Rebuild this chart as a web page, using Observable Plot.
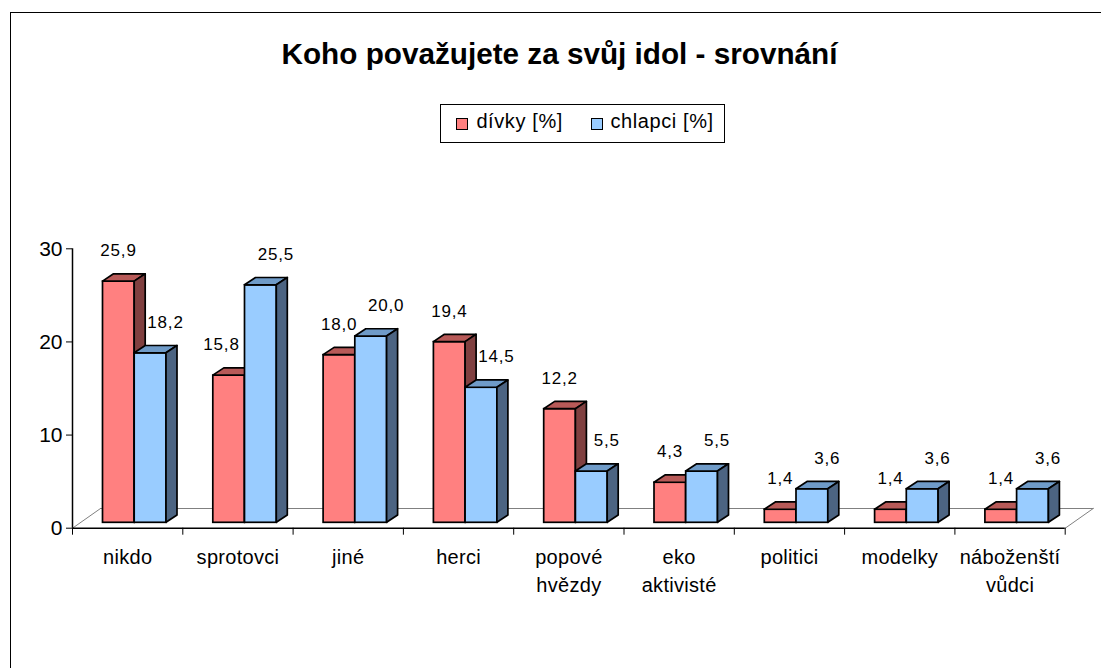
<!DOCTYPE html>
<html>
<head>
<meta charset="utf-8">
<script src="https://cdn.jsdelivr.net/npm/d3@7"></script>
<script src="https://cdn.jsdelivr.net/npm/@observablehq/plot@0.6"></script>
<style>
  html, body { margin: 0; padding: 0; background: #fff; overflow: hidden; }
  #wrap { position: relative; width: 1101px; height: 668px; overflow: hidden; font-family: "Liberation Sans", Arial, sans-serif; }
  #frame { position: absolute; left: 10px; top: 12px; width: 1300px; height: 1000px; border: 1.5px solid #000; box-sizing: border-box; pointer-events: none; }
  #chart { position: absolute; left: 0; top: 0; }
  #title { position: absolute; left: 0; width: 1119px; top: 38.5px; text-align: center; font-weight: bold; font-size: 29.7px; line-height: 29.7px; color: #000; white-space: nowrap; }
  #legend { position: absolute; left: 440px; top: 104px; width: 285px; height: 39px; border: 1.3px solid #000; box-sizing: border-box; background: #fff; }
  .sw { position: absolute; width: 12px; height: 12px; border: 1.5px solid #000; box-sizing: border-box; }
  .lt { position: absolute; font-size: 20px; line-height: 20px; letter-spacing: 0.6px; white-space: nowrap; color: #000; }
  .dlabels text { letter-spacing: 0.8px; }
  .catlabels text { letter-spacing: 0.3px; }
</style>
</head>
<body>
<div id="wrap">
  <div id="chart"></div>
  <div id="frame"></div>
  <div id="title">Koho považujete za svůj idol - srovnání</div>
  <div id="legend"></div>
</div>
<script>
// ---- data ----
const categories = ["nikdo", "sprotovci", "jiné", "herci", "popové\nhvězdy", "eko\naktivisté", "politici", "modelky", "náboženští\nvůdci"];
const divky = [25.9, 15.8, 18.0, 19.4, 12.2, 4.3, 1.4, 1.4, 1.4];
const chlapci = [18.2, 25.5, 20.0, 14.5, 5.5, 5.5, 3.6, 3.6, 3.6];
const seriesNames = ["dívky [%]", "chlapci [%]"];
const yTicks = [0, 10, 20, 30];

// ---- layout (pixels) ----
const W = 1101, H = 668;
const axisLeft = 72, axisRight = 1064.7, axisZero = 527.7, axisTop = 248.3;
const yMax = 30;
const pxX = (axisRight - axisLeft) / categories.length;
const pxY = (axisZero - axisTop) / yMax;
const barBase = 5.4 / pxY;           // bars sit slightly back from the front edge
const depthX = 11 / pxX, depthY = 7.3 / pxY;   // bar depth
const floorX = 28 / pxX, floorY = 19.7 / pxY;  // floor depth
const seriesOffsets = [[30.5, 62.2], [62.2, 94]].map(([a, b]) => [a / pxX, b / pxX]);
const labelLift = 31;     // px above front top of bar
const labelHalf = 6;      // px half height of label
const colors = [
  {front: "#ff8080", top: "#b85a58", side: "#804040"},
  {front: "#99ccff", top: "#6f9bc8", side: "#4c6482"}
];
const values = [divky, chlapci];

const rows = [];
values.forEach((vals, s) => {
  vals.forEach((v, i) => {
    rows.push({s, i, v, id: s + "-" + i,
      x1: i + seriesOffsets[s][0], x2: i + seriesOffsets[s][1],
      yb: barBase, yt: v + barBase});
  });
});

// label x: default over each bar; a red label is nudged left when the taller blue bar would hit it
const labelX = r => {
  if (r.s === 1) return r.i + 93 / pxX;
  const other = chlapci[r.i];
  const overlap = (other - r.v) * pxY > labelLift - labelHalf;
  return r.i + (overlap ? 38.7 : 46) / pxX;
};

const tops = s => rows.filter(r => r.s === s).flatMap(r => [
  {id: r.id, y: r.yt, x1: r.x1, x2: r.x2},
  {id: r.id, y: r.yt + depthY, x1: r.x1 + depthX, x2: r.x2 + depthX}
]);
const sides = s => rows.filter(r => r.s === s).flatMap(r => [
  {id: r.id, x: r.x2, y1: r.yb, y2: r.yt},
  {id: r.id, x: r.x2 + depthX, y1: r.yb + depthY, y2: r.yt + depthY}
]);

const n = categories.length;
const floor = [
  {z: "back", x: floorX, y: floorY}, {z: "back", x: n + floorX, y: floorY},
  {z: "left", x: 0, y: 0}, {z: "left", x: floorX, y: floorY},
  {z: "right", x: n, y: 0}, {z: "right", x: n + floorX, y: floorY}
];

const fmt = v => v.toFixed(1).replace(".", ",");
const sw = 1.7;

const barMarks = [];
[0, 1].forEach(s => {
  barMarks.push(
    Plot.rect(rows.filter(r => r.s === s), {x1: "x1", x2: "x2", y1: "yb", y2: "yt", fill: colors[s].front, stroke: "#000", strokeWidth: sw}),
    Plot.areaX(tops(s), {y: "y", x1: "x1", x2: "x2", z: "id", fill: colors[s].top, stroke: "#000", strokeWidth: sw}),
    Plot.areaY(sides(s), {x: "x", y1: "y1", y2: "y2", z: "id", fill: colors[s].side, stroke: "#000", strokeWidth: sw})
  );
});

const chart = Plot.plot({
  width: W,
  height: H,
  marginLeft: axisLeft,
  marginRight: W - axisRight,
  marginTop: axisTop,
  marginBottom: H - axisZero,
  style: {fontFamily: "'Liberation Sans', Arial, sans-serif", fontSize: "20px", color: "#000", background: "transparent", overflow: "visible"},
  x: {type: "linear", domain: [0, n], axis: null},
  y: {type: "linear", domain: [0, yMax], axis: null},
  marks: [
    Plot.line(floor, {x: "x", y: "y", z: "z", stroke: "#808080", strokeWidth: 1}),
    ...barMarks,
    Plot.ruleY([0], {x1: 0, x2: n, stroke: "#000", strokeWidth: 1.5}),
    Plot.ruleX([0], {y1: 0, y2: yMax, stroke: "#000", strokeWidth: 1.5}),
    Plot.axisY({ticks: yTicks, tickSize: 6, tickPadding: 4, fontSize: 21, label: null, stroke: "#000", fill: "#000"}),
    Plot.axisX({ticks: d3.range(n + 1), tickSize: 7, tickFormat: () => "", label: null, stroke: "#000"}),
    Plot.text(categories, {x: (d, i) => i + 0.5, y: 0, text: d => d, dy: 16.4, lineAnchor: "top", lineHeight: 1.4, fontSize: 20, fill: "#000", className: "catlabels"}),
    Plot.text(rows, {x: labelX, y: "yt", text: r => fmt(r.v), dy: -labelLift, fontSize: 17, fill: "#000", className: "dlabels"})
  ]
});
document.getElementById("chart").append(chart);

// legend
const legend = document.getElementById("legend");
const legendPos = [{sq: 456, tx: 476.7}, {sq: 591.7, tx: 610.7}];
seriesNames.forEach((name, s) => {
  const sq = document.createElement("div");
  sq.className = "sw";
  sq.style.left = (legendPos[s].sq - 440 - 1.3) + "px";
  sq.style.top = (118 - 104 - 1.3) + "px";
  sq.style.background = colors[s].front;
  legend.append(sq);
  const t = document.createElement("div");
  t.className = "lt";
  t.textContent = name;
  t.style.left = (legendPos[s].tx - 440 - 1.3) + "px";
  t.style.top = (111.3 - 104 - 1.3) + "px";
  legend.append(t);
});
</script>
</body>
</html>
